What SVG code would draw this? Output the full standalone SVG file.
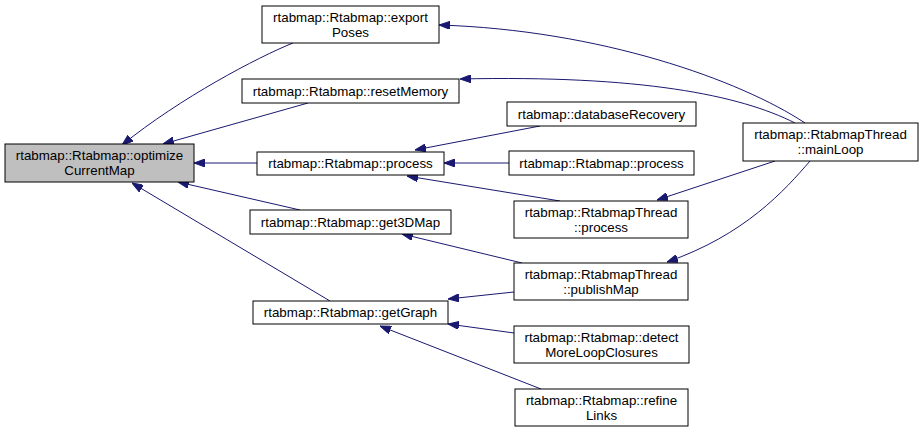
<svg xmlns="http://www.w3.org/2000/svg" width="923" height="432" viewBox="0 0 923 432">
<defs>
<style>
.n rect{fill:#fff;stroke:#000;stroke-width:1}
.n.hl rect{fill:#bfbfbf}
.n text{font-family:"Liberation Sans",Arial,Helvetica,sans-serif;font-size:13.33px;text-anchor:middle;fill:#000}
#edges path{fill:none;stroke:#191970;stroke-width:1;marker-end:url(#ah)}
</style>
<marker id="ah" markerUnits="userSpaceOnUse" markerWidth="11" markerHeight="8" refX="11" refY="4" orient="auto">
<path d="M0,0 L11,4 L0,8 z" fill="#191970" stroke="#191970" stroke-width="1"/>
</marker>
</defs>
<rect width="923" height="432" fill="#fff"/>
<g id="edges">
<path d="M293,43 C258,57 180,98 122,145"/>
<path d="M308,103 L163,144"/>
<path d="M257,163 L194,163"/>
<path d="M300,210 L178,182"/>
<path d="M330,301 L132,183"/>
<path d="M805,123 C740,80 600,30 439,25"/>
<path d="M795,123 C740,95 640,75 460,79"/>
<path d="M540,126 L415,150"/>
<path d="M509,163 L444,163"/>
<path d="M560,201 L407,176"/>
<path d="M775,161 L657,200"/>
<path d="M810,161 C785,190 745,235 667,262"/>
<path d="M522,263 L402,234"/>
<path d="M514,292 L448,299"/>
<path d="M514,333 L448,324"/>
<path d="M541,389 L380,326"/>
</g>
<g id="optimizeCurrentMap" class="n hl"><rect x="5" y="144" width="189" height="38"/><text x="99.5" y="160">rtabmap::Rtabmap::optimize</text><text x="99.5" y="174.5">CurrentMap</text></g>
<g id="exportPoses" class="n"><rect x="262" y="6" width="177" height="37"/><text x="350.5" y="22">rtabmap::Rtabmap::export</text><text x="350.5" y="36.5">Poses</text></g>
<g id="resetMemory" class="n"><rect x="242" y="79" width="217" height="24"/><text x="350.5" y="96">rtabmap::Rtabmap::resetMemory</text></g>
<g id="process" class="n"><rect x="257" y="152" width="187" height="23"/><text x="350.5" y="168">rtabmap::Rtabmap::process</text></g>
<g id="get3DMap" class="n"><rect x="250" y="210" width="201" height="24"/><text x="350.5" y="227">rtabmap::Rtabmap::get3DMap</text></g>
<g id="getGraph" class="n"><rect x="253" y="301" width="195" height="23"/><text x="350.5" y="317">rtabmap::Rtabmap::getGraph</text></g>
<g id="databaseRecovery" class="n"><rect x="507" y="102" width="189" height="24"/><text x="601.5" y="119">rtabmap::databaseRecovery</text></g>
<g id="process2" class="n"><rect x="509" y="151" width="185" height="24"/><text x="601.5" y="168">rtabmap::Rtabmap::process</text></g>
<g id="threadProcess" class="n"><rect x="514" y="201" width="174" height="37"/><text x="601" y="217">rtabmap::RtabmapThread</text><text x="601" y="231.5">::process</text></g>
<g id="mainLoop" class="n"><rect x="743" y="123" width="175" height="38"/><text x="830.5" y="139">rtabmap::RtabmapThread</text><text x="830.5" y="153.5">::mainLoop</text></g>
<g id="publishMap" class="n"><rect x="514" y="263" width="174" height="37"/><text x="601" y="279">rtabmap::RtabmapThread</text><text x="601" y="293.5">::publishMap</text></g>
<g id="detectMoreLoopClosures" class="n"><rect x="514" y="326" width="175" height="37"/><text x="601.5" y="342">rtabmap::Rtabmap::detect</text><text x="601.5" y="356.5">MoreLoopClosures</text></g>
<g id="refineLinks" class="n"><rect x="515" y="389" width="173" height="37"/><text x="601.5" y="405">rtabmap::Rtabmap::refine</text><text x="601.5" y="419.5">Links</text></g>
</svg>
